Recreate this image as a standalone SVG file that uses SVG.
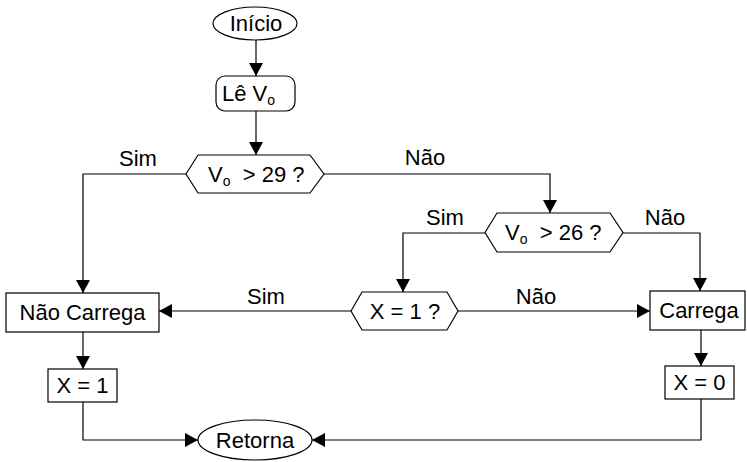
<svg xmlns="http://www.w3.org/2000/svg" width="747" height="462" viewBox="0 0 747 462">
<defs>
<marker id="arr" markerWidth="13" markerHeight="14" refX="13" refY="7" orient="auto" markerUnits="userSpaceOnUse">
<path d="M0,0 L13,7 L0,14 z" fill="#000"/>
</marker>
<style>
.s{fill:#fff;stroke:#000;stroke-width:1.2}
.c{fill:none;stroke:#000;stroke-width:1.2;marker-end:url(#arr)}
text{font-family:"Liberation Sans",Arial,sans-serif;font-size:22px;fill:#000}
.m{text-anchor:middle}
</style>
</defs>
<rect width="747" height="462" fill="#fff"/>
<g id="connectors">
<path class="c" d="M256,40 V76"/>
<path class="c" d="M256,111 V155"/>
<path class="c" d="M186,174 H83 V293"/>
<path class="c" d="M324,174 H550 V213"/>
<path class="c" d="M485,233 H403 V292"/>
<path class="c" d="M623,233 H700 V291"/>
<path class="c" d="M351,311 H159"/>
<path class="c" d="M458,311 H650"/>
<path class="c" d="M83,332 V369"/>
<path class="c" d="M701,330 V366"/>
<path class="c" d="M83,402 V440 H198"/>
<path class="c" d="M701,399 V440 H312"/>
<text x="138" y="166" class="m">Sim</text>
<text x="425" y="165" class="m">Não</text>
<text x="445" y="225" class="m">Sim</text>
<text x="665" y="225" class="m">Não</text>
<text x="266" y="304" class="m">Sim</text>
<text x="536" y="304" class="m">Não</text>
</g>
<g id="inicio">
<ellipse class="s" cx="255" cy="23.5" rx="42" ry="16.5"/>
<text x="256" y="31" class="m">Início</text>
</g>
<g id="le">
<rect class="s" x="216" y="76" width="79" height="35" rx="9"/>
<text x="222" y="101">Lê V<tspan font-size="14" dy="4">o</tspan></text>
</g>
<g id="d29">
<polygon class="s" points="186,174 198,155 310,155 324,174 310,193 198,193"/>
<text x="208" y="182">V<tspan font-size="14" dy="4">o</tspan><tspan dy="-4" xml:space="preserve">  &gt; 29 ?</tspan></text>
</g>
<g id="d26">
<polygon class="s" points="485,232.5 497,213 610,213 623,232.5 610,252 497,252"/>
<text x="505" y="240">V<tspan font-size="14" dy="4">o</tspan><tspan dy="-4" xml:space="preserve">  &gt; 26 ?</tspan></text>
</g>
<g id="dx1">
<polygon class="s" points="351,311 362,292 447,292 458,311 447,330 362,330"/>
<text x="405" y="319" class="m">X = 1 ?</text>
</g>
<g id="naocarrega">
<rect class="s" x="6" y="293" width="153" height="39"/>
<text x="82.5" y="320" class="m">Não Carrega</text>
</g>
<g id="x1">
<rect class="s" x="48" y="369" width="69" height="33"/>
<text x="82.5" y="393" class="m">X = 1</text>
</g>
<g id="carrega">
<rect class="s" x="650" y="291" width="95" height="39"/>
<text x="699" y="318" class="m">Carrega</text>
</g>
<g id="x0">
<rect class="s" x="665" y="366" width="69" height="33"/>
<text x="699.5" y="390" class="m">X = 0</text>
</g>
<g id="retorna">
<ellipse class="s" cx="255" cy="440" rx="57" ry="20"/>
<text x="255" y="448" class="m">Retorna</text>
</g>
</svg>
